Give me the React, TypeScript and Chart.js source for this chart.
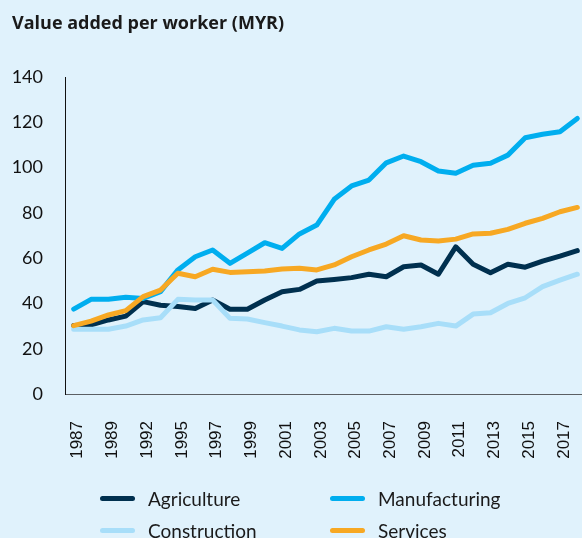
import React, { useEffect, useRef } from "react";
import { Chart, registerables } from "chart.js";

Chart.register(...registerables);

const years = [
  "1987", "1988", "1989", "1990", "1992", "1993", "1995", "1996", "1997", "1998",
  "1999", "2000", "2001", "2002", "2003", "2004", "2005", "2006", "2007", "2008",
  "2009", "2010", "2011", "2012", "2013", "2014", "2015", "2016", "2017", "2018",
];

const agriculture = [
  30.2, 30.5, 32.7, 34.4, 40.8, 39.2, 38.6, 37.8, 41.5, 37.4,
  37.4, 41.5, 45.2, 46.2, 49.9, 50.6, 51.4, 52.9, 51.8, 56.2,
  57.0, 52.9, 65.0, 57.3, 53.6, 57.3, 56.0, 58.7, 60.9, 63.3,
];

const manufacturing = [
  37.5, 41.8, 41.8, 42.7, 42.2, 45.2, 54.8, 60.6, 63.6, 57.7,
  62.2, 66.8, 64.3, 70.7, 74.6, 86.0, 91.9, 94.5, 102.1, 105.1,
  102.6, 98.5, 97.5, 101.0, 101.9, 105.5, 113.2, 114.7, 115.8, 121.7,
];

const construction = [
  28.6, 28.6, 28.6, 30.0, 32.7, 33.7, 41.8, 41.5, 41.5, 33.4,
  33.1, 31.5, 30.0, 28.3, 27.5, 29.0, 27.8, 27.8, 29.7, 28.6,
  29.7, 31.2, 30.0, 35.3, 35.9, 40.0, 42.5, 47.4, 50.3, 52.9,
];

const services = [
  30.2, 32.2, 34.9, 36.8, 43.0, 45.9, 53.3, 51.8, 55.1, 53.7,
  54.0, 54.3, 55.2, 55.5, 54.8, 57.0, 60.6, 63.6, 66.2, 69.9,
  68.0, 67.6, 68.4, 70.7, 71.0, 72.7, 75.4, 77.6, 80.5, 82.4,
];

const yTicks = [0, 20, 40, 60, 80, 100, 120, 140];

const COLORS = {
  agriculture: "#00304f",
  manufacturing: "#00aeef",
  construction: "#a8def9",
  services: "#f7a823",
  bg: "#e0f2fc",
};

const seriesDefs = [
  { label: "Agriculture", data: agriculture, color: COLORS.agriculture },
  { label: "Manufacturing", data: manufacturing, color: COLORS.manufacturing },
  { label: "Construction", data: construction, color: COLORS.construction },
  { label: "Services", data: services, color: COLORS.services },
];

const FONT = "Lato, 'Noto Sans', sans-serif";

export default function App() {
  const ref = useRef<HTMLCanvasElement | null>(null);

  useEffect(() => {
    if (!ref.current) return;
    // first dataset is painted on top in Chart.js
    const drawOrder = [3, 1, 2, 0];
    const chart = new Chart(ref.current, {
      type: "line",
      data: {
        labels: years,
        datasets: drawOrder.map((i) => ({
          label: seriesDefs[i].label,
          data: seriesDefs[i].data,
          borderColor: seriesDefs[i].color,
          backgroundColor: seriesDefs[i].color,
          borderWidth: 5,
          pointRadius: 0,
          tension: 0,
          borderJoinStyle: "round" as const,
          borderCapStyle: "round" as const,
          fill: false,
        })),
      },
      options: {
        animation: false,
        responsive: false,
        maintainAspectRatio: false,
        layout: { padding: { top: 77, bottom: 64, left: 0, right: 0 } },
        plugins: {
          legend: { display: false },
          tooltip: { enabled: false },
          title: { display: false },
        },
        scales: {
          x: {
            type: "category",
            offset: true,
            grid: { display: false, drawTicks: false },
            border: { display: true, color: "#5b5f63", width: 1 },
            afterFit: (s: any) => {
              s.height = 80;
              s.paddingLeft = 0;
              s.paddingRight = 0;
            },
            ticks: {
              autoSkip: false,
              maxRotation: 90,
              minRotation: 90,
              padding: 27,
              labelOffset: 4,
              color: "#111111",
              font: { family: "'Liberation Sans', Arial, sans-serif", size: 17 },
              callback: (_v: any, i: number) => (i % 2 === 0 ? years[i] : ""),
            },
          },
          y: {
            min: 0,
            max: 140,
            grid: { display: false, drawTicks: false },
            border: { display: true, color: "#111111", width: 1 },
            afterFit: (s: any) => {
              s.width = 65;
              s.paddingTop = 0;
              s.paddingBottom = 0;
            },
            afterBuildTicks: (s: any) => {
              s.ticks = yTicks.map((v) => ({ value: v }));
            },
            ticks: {
              padding: 22,
              color: "#111111",
              font: { family: FONT, size: 18 },
            },
          },
        },
      },
    });
    return () => chart.destroy();
  }, []);

  const legendItems = [
    { ...seriesDefs[0], x: 100, y: 498 },
    { ...seriesDefs[1], x: 330, y: 498 },
    { ...seriesDefs[2], x: 100, y: 530 },
    { ...seriesDefs[3], x: 330, y: 530 },
  ];

  return (
    <div
      style={{
        position: "fixed",
        left: 0,
        top: 0,
        width: 582,
        height: 538,
        overflow: "hidden",
        background: COLORS.bg,
        fontFamily: FONT,
      }}
    >
      <canvas
        ref={ref}
        width={586}
        height={538}
        style={{ position: "absolute", left: 0, top: 0, width: 586, height: 538 }}
      />
      <div
        style={{
          position: "absolute",
          left: 12,
          top: 10,
          fontSize: 18,
          fontWeight: 700,
          fontFamily: "'Open Sans', 'Noto Sans', sans-serif",
          color: "#1a1a1a",
          whiteSpace: "nowrap",
          lineHeight: "24px",
        }}
      >
        Value added per worker (MYR)
      </div>
      {legendItems.map((it) => (
        <div
          key={it.label}
          style={{
            position: "absolute",
            left: it.x,
            top: it.y - 12,
            height: 24,
            display: "flex",
            alignItems: "center",
            whiteSpace: "nowrap",
          }}
        >
          <span
            style={{
              display: "inline-block",
              width: 35,
              height: 5,
              borderRadius: 3,
              background: it.color,
            }}
          />
          <span style={{ marginLeft: 13, fontSize: 19, color: "#1a1a1a" }}>{it.label}</span>
        </div>
      ))}
    </div>
  );
}
